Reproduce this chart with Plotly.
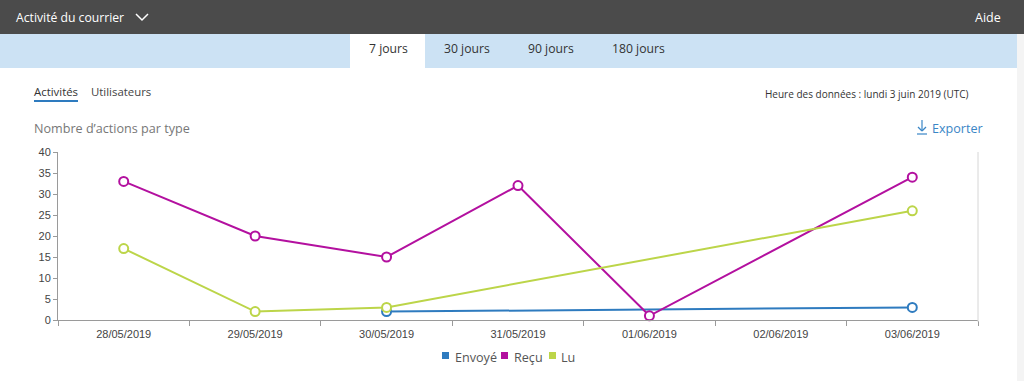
import plotly.graph_objects as go

# ---- data ----
dates = ["28/05/2019", "29/05/2019", "30/05/2019", "31/05/2019",
         "01/06/2019", "02/06/2019", "03/06/2019"]
envoye = [None, None, 2, None, None, None, 3]
recu = [33, 20, 15, 32, 1, None, 34]
lu = [17, 2, 3, None, None, None, 26]
series_names = ["Envoyé", "Reçu", "Lu"]
series_colors = ["#2e7bbf", "#b3109f", "#bcd549"]
y_ticks = [0, 5, 10, 15, 20, 25, 30, 35, 40]
tabs = ["7 jours", "30 jours", "90 jours", "180 jours"]

W, H = 1024, 381
L, R, T, B = 58, 46, 152, 61
PW, PH = W - L - R, H - T - B


def px(x):
    return (x - L) / PW


def py(y):
    return (H - B - y) / PH


UI_FONT = "Open Sans"

fig = go.Figure()
for name, vals, col in zip(series_names, [envoye, recu, lu], series_colors):
    fig.add_trace(go.Scatter(
        x=dates, y=vals, name=name, mode="lines+markers", connectgaps=True,
        line=dict(color=col, width=2),
        marker=dict(symbol="circle", size=9, color="white",
                    line=dict(color=col, width=2)),
        showlegend=False, cliponaxis=False,
    ))

shapes = []


def rect(x0, y0, x1, y1, color, layer="below"):
    shapes.append(dict(type="rect", xref="paper", yref="paper",
                       x0=px(x0), x1=px(x1), y0=py(y0), y1=py(y1),
                       fillcolor=color, line=dict(width=0), layer=layer))


def seg(x0, y0, x1, y1, color, width=1.5):
    shapes.append(dict(type="line", xref="paper", yref="paper",
                       x0=px(x0), x1=px(x1), y0=py(y0), y1=py(y1),
                       line=dict(color=color, width=width)))


rect(0, 0, W, 34, "#4b4b4b")
rect(0, 34, 1017, 68, "#cce2f4")
rect(350, 34, 425, 68, "#ffffff")
rect(1017, 34, W, H, "#f4f4f4")
# chevron
shapes.append(dict(type="path", xref="paper", yref="paper",
                   path=f"M {px(136)} {py(14)} L {px(142)} {py(20)} L {px(148)} {py(14)}",
                   line=dict(color="#ffffff", width=1.5)))
# underline for Activités
seg(34, 101, 78, 101, "#2e7bbf", 2)
# export icon
seg(922, 120, 922, 131, "#3a86c6", 1.2)
seg(918, 127, 922, 131, "#3a86c6", 1.2)
seg(926, 127, 922, 131, "#3a86c6", 1.2)
seg(917, 134, 927, 134, "#3a86c6", 1.2)
# right border of plot
seg(978, 152, 978, 322, "#d6d6d6", 1)

annotations = []


def text(x, y, s, size, color, anchor="left", family=UI_FONT):
    annotations.append(dict(xref="paper", yref="paper", x=px(x), y=py(y),
                            text=s, showarrow=False, xanchor=anchor,
                            yanchor="middle", borderpad=0,
                            font=dict(family=family, size=size, color=color)))


text(15, 17, "Activité du courrier", 12.2, "#ffffff")
text(1002, 17, "Aide", 12.5, "#ffffff", "right")
for t, cx in zip(tabs, [388, 467, 551, 638]):
    text(cx, 48, t, 12.2, "#333333", "center")
text(33, 91, "Activités", 11.4, "#333333")
text(90, 91, "Utilisateurs", 11.4, "#444444")
text(970, 94, "Heure des données : lundi 3 juin 2019 (UTC)", 10, "#333333", "right")
text(33, 128, "Nombre d’actions par type", 12.6, "#777777")
text(984, 128, "Exporter", 12.6, "#3a86c6", "right")

# legend (square swatches + labels)
legend_sq = [442, 501, 549]
legend_tx = [455, 514, 561]
for name, col, sx, tx in zip(series_names, series_colors, legend_sq, legend_tx):
    rect(sx, 352, sx + 7, 359, col, layer="above")
    text(tx - 1, 357, name, 12.6, "#555555")

fig.update_layout(
    width=W, height=H,
    margin=dict(l=L, r=R, t=T, b=B, pad=0),
    paper_bgcolor="white", plot_bgcolor="white",
    shapes=shapes, annotations=annotations,
    showlegend=False,
    xaxis=dict(type="category", categoryorder="array", categoryarray=dates,
               range=[-0.5, 6.5], showgrid=False, showline=True,
               linecolor="#9a9a9a", linewidth=1, ticks="outside",
               tickson="boundaries", ticklen=5, tickcolor="#9a9a9a",
               ticklabelstandoff=4,
               tickfont=dict(family="Liberation Sans", size=11, color="#444444"),
               zeroline=False, fixedrange=True),
    yaxis=dict(range=[0, 40], tickvals=y_ticks, showgrid=False, showline=True,
               linecolor="#9a9a9a", linewidth=1, ticks="outside", ticklen=4,
               tickcolor="#9a9a9a",
               tickfont=dict(family="Liberation Sans", size=11, color="#444444"),
               zeroline=False, fixedrange=True),
)

fig.write_html("out.html", config={"displayModeBar": False},
               post_script="document.body.style.margin='0';document.body.style.overflow='hidden';")
